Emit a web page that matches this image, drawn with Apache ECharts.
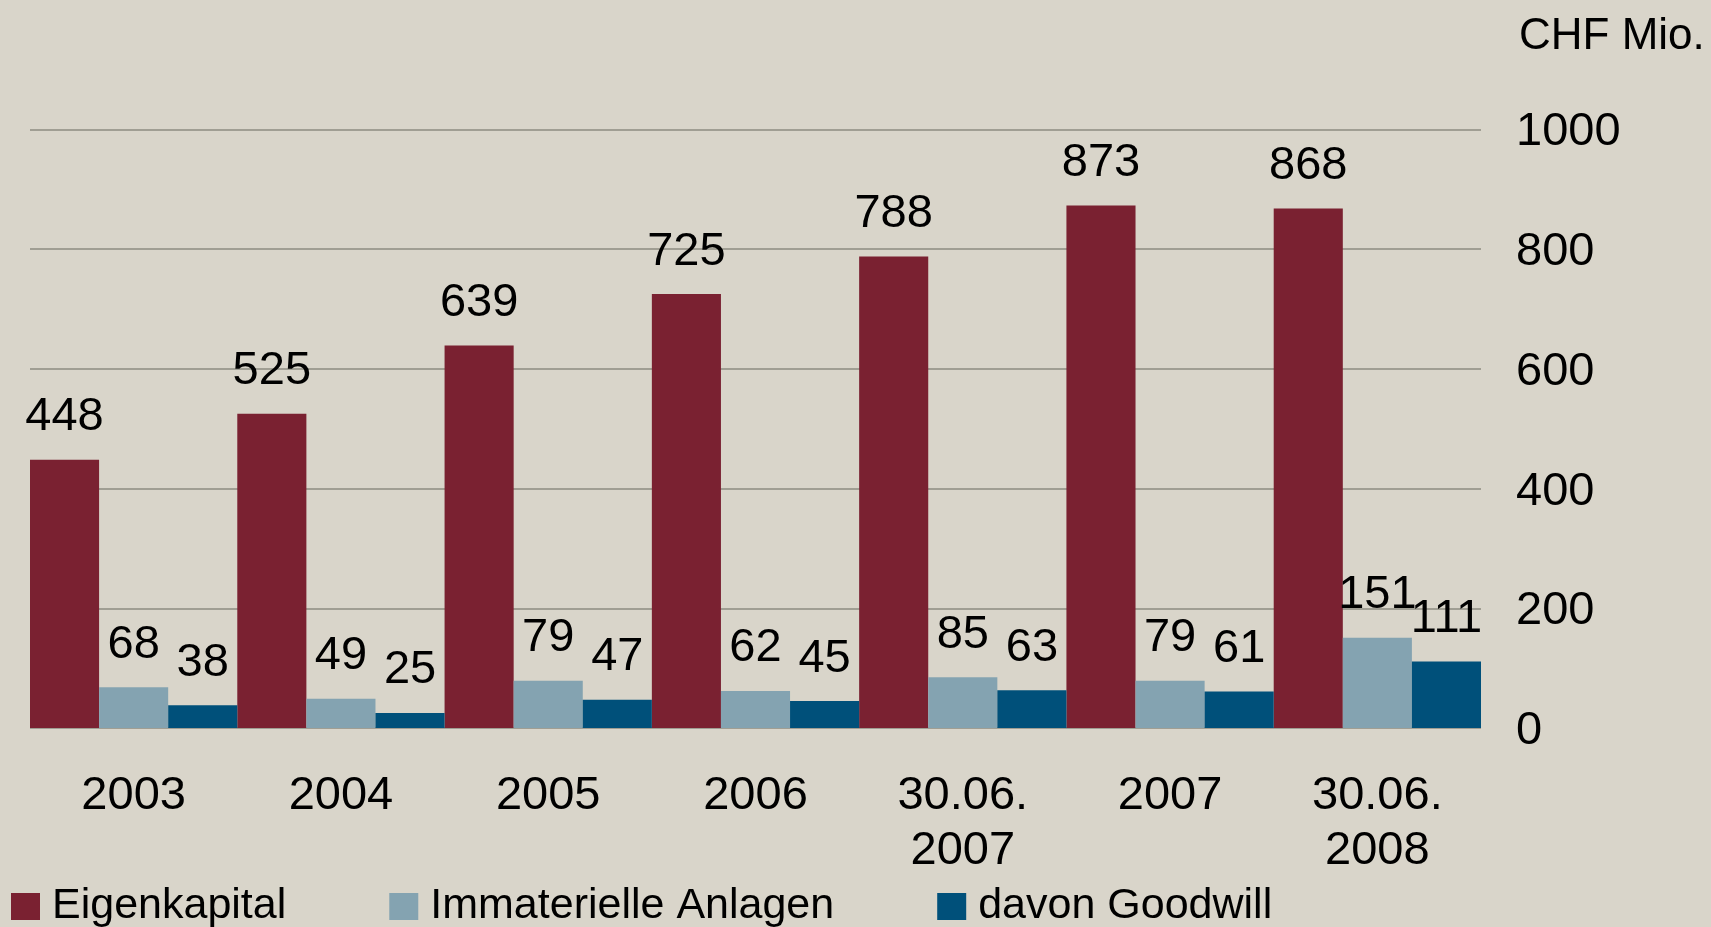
<!DOCTYPE html>
<html>
<head>
<meta charset="utf-8">
<script src="https://cdn.jsdelivr.net/npm/echarts@6/dist/echarts.min.js"></script>
<style>
html,body{margin:0;padding:0;background:#D9D5CA;}
#chart{width:1711px;height:927px;}
</style>
</head>
<body>
<div id="chart"></div>
<script>
const categories = ['2003', '2004', '2005', '2006', '30.06.\n2007', '2007', '30.06.\n2008'];
const eigenkapital = [448, 525, 639, 725, 788, 873, 868];
const immaterielle = [68, 49, 79, 62, 85, 79, 151];
const goodwill = [38, 25, 47, 45, 63, 61, 111];
const seriesNames = ['Eigenkapital', 'Immaterielle Anlagen', 'davon Goodwill'];
const unitLabel = 'CHF Mio.';

const FONT = '"Liberation Sans", Arial, Helvetica, sans-serif';
const colors = ['#7A2131', '#84A3B1', '#00507A'];

const chart = echarts.init(document.getElementById('chart'), null, {renderer: 'canvas'});

function barSeries(name, data, color) {
  return {
    name: name,
    type: 'bar',
    data: data,
    barGap: '0%',
    barCategoryGap: '0%',
    itemStyle: {color: color},
    label: {
      show: true,
      position: 'top',
      distance: 19,
      color: '#000',
      fontFamily: FONT,
      fontSize: 47
    }
  };
}

chart.setOption({
  backgroundColor: '#D9D5CA',
  animation: false,
  textStyle: {fontFamily: FONT},
  grid: {left: 30, right: 230, top: 129.5, bottom: 199, containLabel: false},
  legend: {
    left: 11,
    top: 885,
    padding: 0,
    itemWidth: 29,
    itemHeight: 27,
    itemGap: 103,
    icon: 'rect',
    data: seriesNames,
    textStyle: {
      fontFamily: FONT,
      fontSize: 43,
      color: '#000',
      padding: [0, 0, 0, 7]
    }
  },
  xAxis: {
    type: 'category',
    data: categories,
    axisLine: {show: false},
    axisTick: {show: false},
    axisLabel: {
      color: '#000',
      fontFamily: FONT,
      fontSize: 47,
      lineHeight: 55,
      margin: 41,
      interval: 0
    }
  },
  yAxis: {
    type: 'value',
    position: 'right',
    min: 0,
    max: 1000,
    interval: 200,
    name: unitLabel,
    nameLocation: 'end',
    nameGap: 93,
    nameTextStyle: {
      color: '#000',
      fontFamily: FONT,
      fontSize: 44,
      align: 'left',
      verticalAlign: 'middle',
      padding: [0, 0, 0, 38]
    },
    axisLine: {show: false},
    axisTick: {show: false},
    splitLine: {show: true, lineStyle: {color: '#8C8B80', width: 1.5}},
    axisLabel: {
      color: '#000',
      fontFamily: FONT,
      fontSize: 47,
      margin: 35,
      align: 'left',
      formatter: function (v) { return '{v|' + String(v) + '}'; },
      rich: {
        v: {
          color: '#000',
          fontFamily: FONT,
          fontSize: 47,
          padding: [6, 0, 0, 0]
        }
      }
    }
  },
  series: [
    barSeries(seriesNames[0], eigenkapital, colors[0]),
    barSeries(seriesNames[1], immaterielle, colors[1]),
    barSeries(seriesNames[2], goodwill, colors[2])
  ]
});
</script>
</body>
</html>
